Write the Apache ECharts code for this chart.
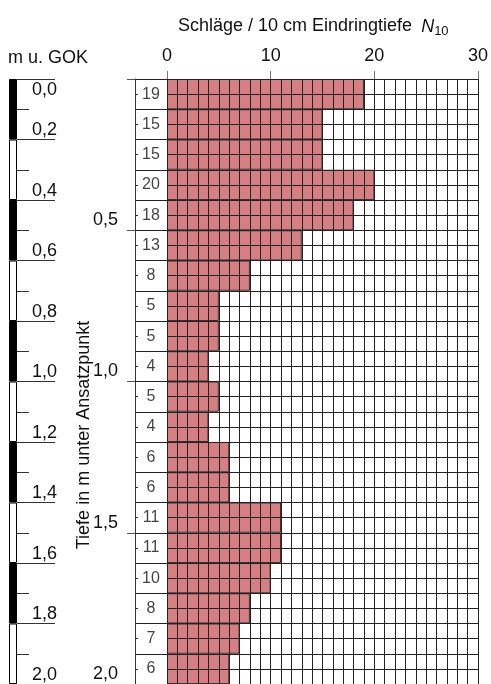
<!DOCTYPE html>
<html>
<head>
<meta charset="utf-8">
<script src="https://cdn.jsdelivr.net/npm/echarts@6/dist/echarts.min.js"></script>
<style>
    html, body { margin: 0; padding: 0; background: #fff; }
    #main { width: 491px; height: 684px; }
</style>
</head>
<body>
<div id="main"></div>
<script>
// Rammsondierung: Schläge je 10 cm, Zeilen von 0,0 bis 2,0 m
var depthRows = ['0,0', '0,1', '0,2', '0,3', '0,4', '0,5', '0,6', '0,7', '0,8', '0,9',
    '1,0', '1,1', '1,2', '1,3', '1,4', '1,5', '1,6', '1,7', '1,8', '1,9'];
var rowTop = [0.0, 0.1, 0.2, 0.3, 0.4, 0.5, 0.6, 0.7, 0.8, 0.9,
    1.0, 1.1, 1.2, 1.3, 1.4, 1.5, 1.6, 1.7, 1.8, 1.9];
var blows = [19, 15, 15, 20, 18, 13, 8, 5, 5, 4, 5, 4, 6, 6, 11, 11, 10, 8, 7, 6];
// GOK-Maßstab in 0,2-m-Abschnitten
var gokSegments = ['0,0-0,2', '0,2-0,4', '0,4-0,6', '0,6-0,8', '0,8-1,0',
    '1,0-1,2', '1,2-1,4', '1,4-1,6', '1,6-1,8', '1,8-2,0'];
var xTicks = [0, 10, 20, 30];

var FONT = '"Liberation Sans", Arial, sans-serif';
var LINE = '#222';

function comma(v) {
    return (+v).toFixed(1).replace('.', ',');
}

var chart = echarts.init(document.getElementById('main'));

var plotTop = 79;
var plotH = 606;

chart.setOption({
    animation: false,
    backgroundColor: '#fff',
    textStyle: { fontFamily: FONT },
    title: {
        text: 'Schläge / 10 cm Eindringtiefe {n|N}{s|10}',
        left: 173,
        top: 10,
        textStyle: {
            fontFamily: FONT,
            fontSize: 18,
            fontWeight: 'normal',
            color: '#111',
            rich: {
                n: { fontFamily: FONT, fontSize: 18, fontStyle: 'italic', color: '#111', padding: [0, 0, 0, 4] },
                s: { fontFamily: FONT, fontSize: 13, color: '#111', padding: [10, 0, 0, 0] }
            }
        }
    },
    graphic: [
        {
            type: 'text', left: 8, top: 49,
            style: { text: 'm u. GOK', font: '18px ' + FONT, fill: '#111' }
        },
        {
            type: 'text', x: 84, y: 435, rotation: Math.PI / 2,
            style: {
                text: 'Tiefe in m unter Ansatzpunkt', font: '18px ' + FONT, fill: '#111',
                align: 'center', verticalAlign: 'middle'
            }
        }
    ],
    grid: [
        { left: 9, top: plotTop, width: 8, height: plotH },
        { left: 135, top: plotTop, width: 32, height: plotH },
        { left: 167, top: plotTop, width: 314, height: plotH }
    ],
    xAxis: [
        { gridIndex: 0, type: 'value', min: 0, max: 1, show: false },
        { gridIndex: 1, type: 'value', min: 0, max: 1, show: false },
        {
            gridIndex: 2, type: 'value', position: 'top', min: 0, max: 30, interval: 10,
            z: 10,
            axisLine: { show: false },
            axisTick: { show: true, length: 8, lineStyle: { color: '#777' } },
            axisLabel: {
                margin: 14, fontSize: 18, color: '#111', fontFamily: FONT,
                formatter: function (v) { return xTicks.indexOf(v) >= 0 ? String(v) : ''; }
            },
            splitLine: { show: true, lineStyle: { color: LINE, width: 1 } },
            minorTick: { show: false, splitNumber: 10 },
            minorSplitLine: { show: true, lineStyle: { color: LINE, width: 1 } }
        }
    ],
    yAxis: [
        // 0: GOK-Balken
        { gridIndex: 0, type: 'category', data: gokSegments, inverse: true, show: false },
        // 1: GOK-Skala
        {
            gridIndex: 0, type: 'value', position: 'right', inverse: true,
            min: 0, max: 2, interval: 0.2,
            axisLine: { show: false },
            axisTick: { show: true, length: 38, lineStyle: { color: '#333' } },
            minorTick: { show: true, splitNumber: 2, length: 12, lineStyle: { color: '#333' } },
            splitLine: { show: false },
            axisLabel: {
                margin: 15, color: '#111',
                formatter: function (v) {
                    return v === 0 ? '{t|' + comma(v) + '}' : '{b|' + comma(v) + '}';
                },
                rich: {
                    t: { fontSize: 18, fontFamily: FONT, color: '#111', padding: [22, 0, 0, 0] },
                    b: { fontSize: 18, fontFamily: FONT, color: '#111', padding: [0, 0, 18, 0] }
                }
            }
        },
        // 2: Tiefe unter Ansatzpunkt
        {
            gridIndex: 1, type: 'value', position: 'left', inverse: true,
            min: 0, max: 2, interval: 0.5,
            axisLine: { show: true, lineStyle: { color: '#333' } },
            axisTick: { show: true, length: 8, lineStyle: { color: '#555' } },
            splitLine: { show: false },
            axisLabel: {
                margin: 17, color: '#111',
                formatter: function (v) { return v === 0 ? '' : '{b|' + comma(v) + '}'; },
                rich: {
                    b: { fontSize: 18, fontFamily: FONT, color: '#111', padding: [0, 0, 20, 0] }
                }
            }
        },
        // 3: Zeilenlinien der Zahlenspalte
        {
            gridIndex: 1, type: 'value', position: 'left', inverse: true,
            min: 0, max: 2, interval: 0.1,
            axisLine: { show: false },
            axisTick: { show: false, inside: true },
            minorTick: { show: true, splitNumber: 2, length: 3, lineStyle: { color: '#333' } },
            axisLabel: { show: false },
            splitLine: { show: true, lineStyle: { color: LINE, width: 1 } }
        },
        // 4: Raster im Diagramm
        {
            gridIndex: 2, type: 'value', inverse: true, position: 'left',
            min: 0, max: 2, interval: 0.1, z: 10,
            axisLine: { show: false },
            axisTick: { show: false },
            axisLabel: { show: false },
            splitLine: { show: true, lineStyle: { color: LINE, width: 1 } },
            minorTick: { show: false, splitNumber: 2 },
            minorSplitLine: { show: true, lineStyle: { color: LINE, width: 1 } }
        },
        // 5: Kategorien für die Balken
        { gridIndex: 2, type: 'category', data: depthRows, inverse: true, show: false }
    ],
    series: [
        {
            type: 'bar',
            xAxisIndex: 0, yAxisIndex: 0,
            barWidth: '100%',
            data: gokSegments.map(function (s, i) {
                return { value: 1, itemStyle: { color: i % 2 ? '#fff' : '#000' } };
            }),
            itemStyle: { borderColor: '#000', borderWidth: 1 }
        },
        {
            type: 'scatter',
            xAxisIndex: 1, yAxisIndex: 3,
            symbol: 'rect', symbolSize: 1,
            itemStyle: { color: 'rgba(0,0,0,0)' },
            data: rowTop.map(function (t, i) { return [0.5, t + 0.05, blows[i]]; }),
            label: {
                show: true, position: 'inside', fontSize: 16, fontFamily: FONT, color: '#111',
                formatter: function (p) { return String(p.value[2]); }
            }
        },
        {
            type: 'bar',
            xAxisIndex: 2, yAxisIndex: 5,
            barWidth: '100%',
            z: 2,
            data: blows,
            itemStyle: { color: '#d57f83', borderColor: '#333', borderWidth: 1 }
        }
    ]
});
</script>
</body>
</html>
